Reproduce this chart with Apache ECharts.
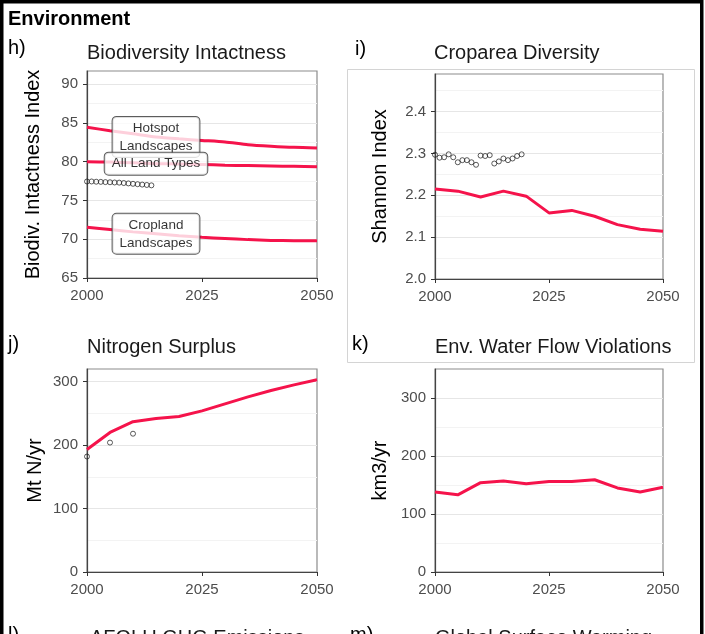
<!DOCTYPE html>
<html>
<head>
<meta charset="utf-8">
<script src="https://cdn.jsdelivr.net/npm/echarts@6/dist/echarts.min.js"></script>
<style>
  html, body { margin: 0; padding: 0; background: #fff; }
  #chart { width: 705px; height: 634px; }
</style>
</head>
<body>
<div id="chart"></div>
<script>
// ---- data -------------------------------------------------------------
const years = [2000, 2005, 2010, 2015, 2020, 2025, 2030, 2035, 2040, 2045, 2050];
const xTicks = [2000, 2025, 2050];

// h) Biodiversity Intactness Index
const bioHotspot = [84.45, 84.0, 83.6, 83.2, 82.95, 82.75, 82.55, 82.2, 82.0, 81.85, 81.78];
const bioAllLand = [80.0, 79.95, 79.85, 79.75, 79.7, 79.65, 79.55, 79.5, 79.45, 79.4, 79.35];
const bioCropland = [71.55, 71.25, 70.95, 70.7, 70.45, 70.25, 70.1, 69.95, 69.85, 69.82, 69.8];
const bioObsYears = [2000, 2001, 2002, 2003, 2004, 2005, 2006, 2007, 2008, 2009, 2010, 2011, 2012, 2013, 2014];
const bioObs = [77.45, 77.45, 77.42, 77.4, 77.37, 77.35, 77.32, 77.3, 77.25, 77.2, 77.15, 77.1, 77.05, 77.0, 76.95];
const bioLabelYear = 2015;
const bioLabels = ['Hotspot\nLandscapes', 'All Land Types', 'Cropland\nLandscapes'];
const bioMajor = [65, 70, 75, 80, 85, 90];
const bioMinor = [67.5, 72.5, 77.5, 82.5, 87.5];

// i) Croparea Diversity (Shannon index)
const shannon = [2.215, 2.21, 2.196, 2.21, 2.198, 2.158, 2.164, 2.15, 2.13, 2.119, 2.114];
const shannonObsYears = [2000, 2001, 2002, 2003, 2004, 2005, 2006, 2007, 2008, 2009,
                         2010, 2011, 2012, 2013, 2014, 2015, 2016, 2017, 2018, 2019];
const shannonObs = [2.297, 2.29, 2.291, 2.298, 2.291, 2.279, 2.284, 2.284, 2.279, 2.273,
                    2.295, 2.294, 2.296, 2.276, 2.281, 2.288, 2.284, 2.288, 2.294, 2.298];
const shannonMajor = [2.0, 2.1, 2.2, 2.3, 2.4];
const shannonMinor = [2.05, 2.15, 2.25, 2.35, 2.45];

// j) Nitrogen Surplus
const nitrogen = [193, 220, 237, 242, 245, 254, 265, 276, 286, 295, 303];
const nitrogenObsYears = [2000, 2005, 2010];
const nitrogenObs = [182, 204, 218];
const nitroMajor = [0, 100, 200, 300];
const nitroMinor = [50, 150, 250];

// k) Environmental water flow violations
const waterFlow = [138, 133, 154, 157, 152, 156, 156, 159, 145, 138, 146];
const waterMajor = [0, 100, 200, 300];
const waterMinor = [50, 150, 250];

// ---- styling ----------------------------------------------------------
const FONT = '"Liberation Sans", Arial, Helvetica, sans-serif';
const RED = '#f5134b';
const TICK_GREY = '#4d4d4d';

const zip = (xs, ys) => xs.map((x, i) => [x, ys[i]]);

const panels = [
  { left: 87,  top: 71,  width: 230, height: 207, ymin: 65, ymax: 91.7, major: bioMajor, minor: bioMinor,
    name: 'Biodiv. Intactness Index', gap: 44, fmt: v => String(v) },
  { left: 435, top: 74,  width: 228, height: 205, ymin: 2.0, ymax: 2.49, major: shannonMajor, minor: shannonMinor,
    name: 'Shannon Index', gap: 45, fmt: v => v.toFixed(1) },
  { left: 87,  top: 369, width: 230, height: 203, ymin: 0, ymax: 320, major: nitroMajor, minor: nitroMinor,
    name: 'Mt N/yr', gap: 42, fmt: v => String(v) },
  { left: 435, top: 369, width: 228, height: 203, ymin: 0, ymax: 350, major: waterMajor, minor: waterMinor,
    name: 'km3/yr', gap: 45, fmt: v => String(v) }
];

const grid = panels.map(p => ({
  left: p.left, top: p.top, width: p.width, height: p.height,
  show: true, borderColor: '#8c8c8c', borderWidth: 1.2, backgroundColor: 'transparent'
}));

const xAxis = panels.map((p, i) => ({
  type: 'value', gridIndex: i, min: 2000, max: 2050,
  axisLine: { show: true, onZero: false, lineStyle: { color: '#444', width: 1.2 } },
  axisTick: { show: true, length: 4, customValues: xTicks, lineStyle: { color: '#333', width: 1 } },
  axisLabel: { customValues: xTicks, fontSize: 15, color: TICK_GREY, margin: 10, fontFamily: FONT,
               formatter: v => String(v) },
  splitLine: { show: false }
}));

const yAxis = [];
panels.forEach((p, i) => {
  // labelled axis with major grid lines
  yAxis.push({
    type: 'value', gridIndex: i, min: p.ymin, max: p.ymax, position: 'left',
    name: p.name, nameLocation: 'middle', nameGap: p.gap,
    nameTextStyle: { fontSize: 20, color: '#000', fontFamily: FONT },
    axisLine: { show: true, onZero: false, lineStyle: { color: '#444', width: 1.2 } },
    axisTick: { show: true, length: 4, customValues: p.major, lineStyle: { color: '#333', width: 1 } },
    axisLabel: { customValues: p.major, fontSize: 15, color: TICK_GREY, margin: 9, fontFamily: FONT, formatter: p.fmt },
    splitLine: { show: true, lineStyle: { color: '#e6e6e6', width: 1.2 } }
  });
  // silent companion axis carrying the minor grid lines
  yAxis.push({
    type: 'value', gridIndex: i, min: p.ymin, max: p.ymax, position: 'right',
    axisLine: { show: false }, axisTick: { show: false, customValues: p.minor },
    axisLabel: { show: false, customValues: p.minor },
    splitLine: { show: true, lineStyle: { color: '#f3f3f3', width: 1 } }
  });
});

const lineSeries = (gi, values, smooth) => ({
  type: 'line', xAxisIndex: gi, yAxisIndex: gi * 2, data: zip(years, values),
  showSymbol: false, smooth: smooth || false, z: 3,
  lineStyle: { color: RED, width: 3 }, itemStyle: { color: RED }
});

const obsSeries = (gi, xs, ys) => ({
  type: 'scatter', xAxisIndex: gi, yAxisIndex: gi * 2, data: zip(xs, ys),
  symbol: 'circle', symbolSize: 5, z: 4,
  itemStyle: { color: 'rgba(255,255,255,0)', borderColor: '#1a1a1a', borderWidth: 0.9 }
});

const labelIdx = years.indexOf(bioLabelYear);
const bioLabelPoints = [
  { value: [bioLabelYear, bioCropland[labelIdx]], name: bioLabels[2] },
  { value: [bioLabelYear, bioHotspot[labelIdx]], name: bioLabels[0] },
  { value: [bioLabelYear, bioAllLand[labelIdx]], name: bioLabels[1] }
];

const series = [
  lineSeries(0, bioHotspot, 0.25),
  lineSeries(0, bioAllLand, 0.25),
  lineSeries(0, bioCropland, 0.25),
  obsSeries(0, bioObsYears, bioObs),
  {
    type: 'scatter', xAxisIndex: 0, yAxisIndex: 0, data: bioLabelPoints,
    symbol: 'circle', symbolSize: 0.1, z: 6, itemStyle: { color: 'rgba(0,0,0,0)' },
    label: {
      show: true, position: 'inside', formatter: '{b}', fontSize: 13.5, fontFamily: FONT,
      color: '#000', backgroundColor: '#fff', borderColor: '#333', borderWidth: 1,
      borderRadius: 4, padding: [2, 7], lineHeight: 18, align: 'center', verticalAlign: 'middle'
    }
  },
  lineSeries(1, shannon),
  obsSeries(1, shannonObsYears, shannonObs),
  lineSeries(2, nitrogen),
  obsSeries(2, nitrogenObsYears, nitrogenObs),
  lineSeries(3, waterFlow)
];

const txt = (text, x, y, size, style) => ({
  type: 'text', x: x, y: y, z: 50, silent: true,
  style: Object.assign({ text: text, fontSize: size, fontFamily: FONT, fill: '#1a1a1a',
                         align: 'left', verticalAlign: 'middle' }, style || {})
});

const graphic = [
  { type: 'rect', z: 100, silent: true, shape: { x: 1.75, y: 1.75, width: 700, height: 700 },
    style: { fill: 'none', stroke: '#000', lineWidth: 3.5 } },
  { type: 'rect', z: 1, silent: true, shape: { x: 347.5, y: 69.5, width: 347, height: 293 },
    style: { fill: 'none', stroke: '#d4d4d4', lineWidth: 1 } },
  txt('Environment', 8, 19, 20, { fontWeight: 'bold', fill: '#000' }),
  txt('h)', 8, 48, 20, { fill: '#000' }),
  txt('Biodiversity Intactness', 87, 53, 20),
  txt('i)', 355, 49, 20, { fill: '#000' }),
  txt('Croparea Diversity', 434, 53, 20),
  txt('j)', 8, 344, 20, { fill: '#000' }),
  txt('Nitrogen Surplus', 87, 347, 20),
  txt('k)', 352, 344, 20, { fill: '#000' }),
  txt('Env. Water Flow Violations', 435, 347, 20),
  txt('l)', 8, 635, 20, { fill: '#000' }),
  txt('AFOLU GHG Emissions', 90, 638, 20),
  txt('m)', 350, 635, 20, { fill: '#000' }),
  txt('Global Surface Warming', 435, 638, 20)
];

const chart = echarts.init(document.getElementById('chart'), null, { renderer: 'canvas' });
chart.setOption({
  animation: false,
  backgroundColor: '#fff',
  textStyle: { fontFamily: FONT },
  grid: grid,
  xAxis: xAxis,
  yAxis: yAxis,
  series: series,
  graphic: graphic
});
</script>
</body>
</html>
